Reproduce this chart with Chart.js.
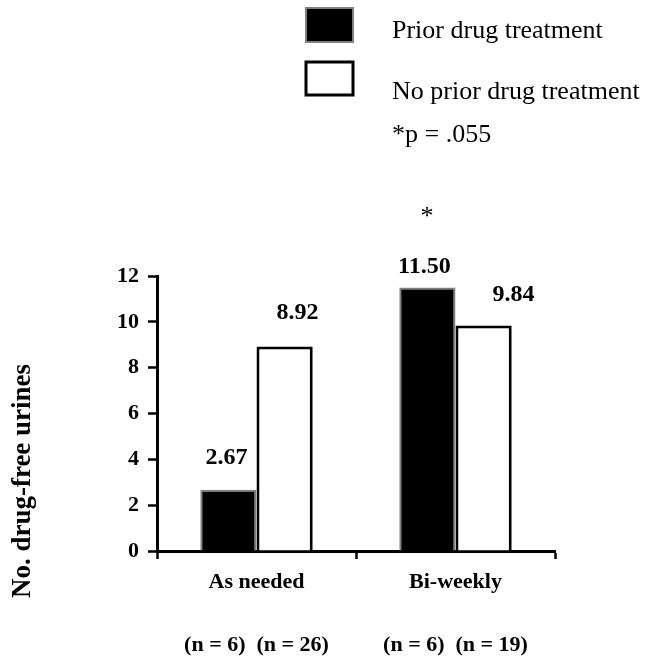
<!DOCTYPE html>
<html>
<head>
<meta charset="utf-8">
<script src="https://cdn.jsdelivr.net/npm/chart.js@4"></script>
<style>
  html, body { margin: 0; padding: 0; background: #fff; }
  #wrap { width: 648px; height: 662px; }
</style>
</head>
<body>
<div id="wrap"><canvas id="my-chart" width="648" height="662"></canvas></div>
<script>
'use strict'

let categories = [
  ['As needed', '', '(n = 6)  (n = 26)'],
  ['Bi-weekly', '', '(n = 6)  (n = 19)']
];
let seriesNames = ['Prior drug treatment', 'No prior drug treatment'];
let priorValues = [2.67, 11.50];
let noPriorValues = [8.92, 9.84];
let yTicks = [0, 2, 4, 6, 8, 10, 12];
let yTitle = 'No. drug-free urines';
let pNote = '*p = .055';
let starNote = '*';

let serif = "'Liberation Serif', 'Times New Roman', serif";

let chartContext = document.getElementById('my-chart').getContext('2d');

// value labels sit a bit off the bar centre in the original
let valueLabels = {
  id: 'valueLabels',
  afterDatasetsDraw(chart, args, opts) {
    let ctx = chart.ctx;
    ctx.save();
    ctx.font = 'bold 24px ' + serif;
    ctx.fillStyle = '#000';
    ctx.textAlign = 'center';
    ctx.textBaseline = 'middle';
    chart.data.datasets.forEach((ds, d) => {
      chart.getDatasetMeta(d).data.forEach((bar, i) => {
        let off = opts.offsets[d][i];
        ctx.fillText(ds.data[i].toFixed(2), bar.x + off[0], bar.y + off[1]);
      });
    });
    ctx.restore();
  }
};

let sideText = {
  id: 'sideText',
  afterDraw(chart) {
    let ctx = chart.ctx;
    let ds = chart.data.datasets;
    ctx.save();

    // y axis title
    ctx.translate(23, 481);
    ctx.rotate(-Math.PI / 2);
    ctx.font = 'bold 27px ' + serif;
    ctx.fillStyle = '#000';
    ctx.textAlign = 'center';
    ctx.textBaseline = 'middle';
    ctx.fillText(yTitle, 0, 0);
    ctx.setTransform(1, 0, 0, 1, 0, 0);

    // legend
    ctx.lineWidth = 2;
    ctx.fillStyle = ds[0].backgroundColor;
    ctx.strokeStyle = ds[0].borderColor;
    ctx.fillRect(306, 8, 47, 34);
    ctx.strokeRect(306, 8, 47, 34);
    ctx.fillStyle = ds[1].backgroundColor;
    ctx.strokeStyle = ds[1].borderColor;
    ctx.lineWidth = 3;
    ctx.fillRect(306, 62, 47, 33);
    ctx.strokeRect(306, 62, 47, 33);

    ctx.font = '26px ' + serif;
    ctx.fillStyle = '#000';
    ctx.textAlign = 'left';
    ctx.textBaseline = 'alphabetic';
    ctx.fillText(ds[0].label, 392, 38);
    ctx.fillText(ds[1].label, 392, 99);
    ctx.fillText(pNote, 392, 142);

    ctx.textAlign = 'center';
    ctx.textBaseline = 'middle';
    ctx.fillText(starNote, 427, 217);
    ctx.restore();
  }
};

let chartConfig = {
  type: 'bar',
  data: {
    labels: categories,
    datasets: [{
      label: seriesNames[0],
      data: priorValues,
      backgroundColor: '#000000',
      borderColor: '#808080',
      borderWidth: 2,
    }, {
      label: seriesNames[1],
      data: noPriorValues,
      backgroundColor: '#ffffff',
      borderColor: '#000000',
      borderWidth: 3,
    }],
  },
  options: {
    responsive: false,
    animation: false,
    categoryPercentage: 0.565,
    barPercentage: 1.0,
    layout: { padding: { left: 0, top: 276, right: 93, bottom: 0 } },
    plugins: {
      legend: { display: false },
      tooltip: { enabled: false },
      valueLabels: {
        offsets: [[[-2, -32], [-3, -21]], [[13, -34], [30, -31]]]
      }
    },
    scales: {
      x: {
        afterFit: (s) => { s.height = 111; },
        border: { color: '#000', width: 3 },
        grid: {
          offset: true,
          drawOnChartArea: false,
          tickLength: 8,
          tickColor: '#000',
          tickWidth: 2.5,
        },
        ticks: {
          color: '#000',
          padding: 8,
          maxRotation: 0,
          autoSkip: false,
          font: { family: serif, size: 22, weight: 'bold', lineHeight: 1.42 },
        },
      },
      y: {
        min: yTicks[0],
        max: yTicks[yTicks.length - 1],
        afterFit: (s) => { s.width = 157; },
        afterBuildTicks: (s) => { s.ticks = yTicks.map(v => ({ value: v })); },
        border: { color: '#000', width: 3 },
        grid: {
          drawOnChartArea: false,
          tickLength: 9,
          tickColor: '#000',
          tickWidth: 2.5,
        },
        ticks: {
          color: '#000',
          padding: 9,
          font: { family: serif, size: 22, weight: 'bold' },
        },
      },
    },
  },
  plugins: [valueLabels, sideText],
};

let myChart = new Chart(chartContext, chartConfig);
</script>
</body>
</html>
